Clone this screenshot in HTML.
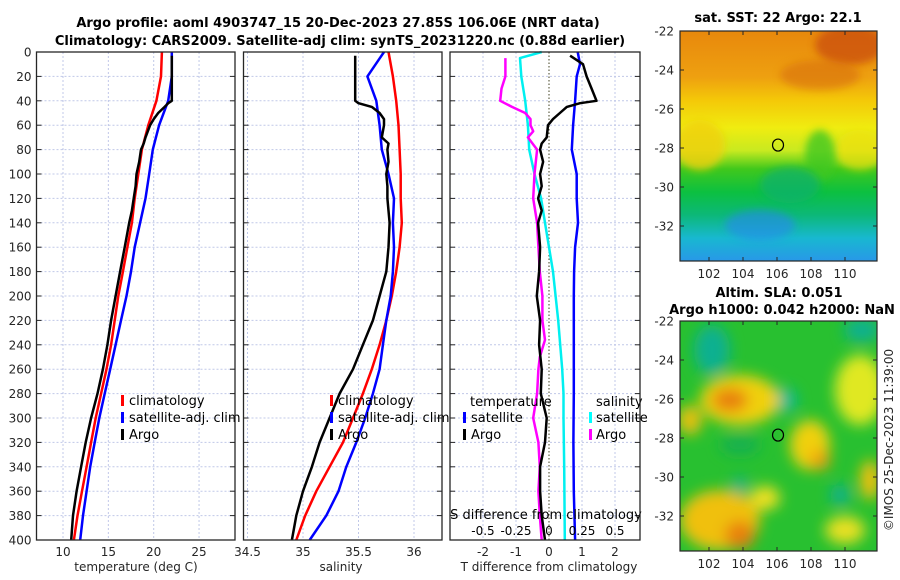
<!DOCTYPE html>
<html><head><meta charset="utf-8"><style>
html,body{margin:0;padding:0;background:#fff;}
svg{display:block;font-family:"DejaVu Sans","Liberation Sans",sans-serif;}
</style></head><body>
<svg id="fig" width="900" height="580" viewBox="0 0 900 580" xmlns="http://www.w3.org/2000/svg">
<defs>
<linearGradient id="sstg" x1="0" y1="0" x2="0" y2="1">
<stop offset="0" stop-color="#e8880c"/><stop offset="0.2" stop-color="#eea010"/><stop offset="0.3" stop-color="#f4c808"/><stop offset="0.42" stop-color="#f0ec10"/><stop offset="0.52" stop-color="#c8ea20"/><stop offset="0.6" stop-color="#40c81c"/><stop offset="0.7" stop-color="#0cc040"/><stop offset="0.8" stop-color="#0cb878"/><stop offset="0.9" stop-color="#18b8d0"/><stop offset="1" stop-color="#2898e8"/>
</linearGradient>
<filter id="bl" x="-50%" y="-50%" width="200%" height="200%"><feGaussianBlur stdDeviation="7"/></filter>
<filter id="bl2" x="-50%" y="-50%" width="200%" height="200%"><feGaussianBlur stdDeviation="4"/></filter>
<clipPath id="c1"><rect x="680" y="31" width="197" height="230"/></clipPath>
<clipPath id="c2"><rect x="680" y="321" width="197" height="230"/></clipPath>
</defs>
<g id="titles" fill="#000" font-weight="bold" font-size="13" text-anchor="middle">
<text x="338" y="27">Argo profile: aoml 4903747_15 20-Dec-2023 27.85S 106.06E (NRT data)</text>
<text x="340" y="45">Climatology: CARS2009. Satellite-adj clim: synTS_20231220.nc (0.88d earlier)</text>
<text x="778" y="22">sat. SST: 22 Argo: 22.1</text>
<text x="779" y="297">Altim. SLA: 0.051</text>
<text x="782" y="314">Argo h1000: 0.042 h2000: NaN</text>
</g>
<g id="p1"></g>
<g id="p2"></g>
<g id="p3"></g>
<g id="map1" clip-path="url(#c1)">
<rect x="680" y="31" width="197" height="230" fill="url(#sstg)"/>
<ellipse cx="850" cy="45" rx="35" ry="20" fill="#c84a08" opacity="0.7" filter="url(#bl2)"/>
<ellipse cx="820" cy="75" rx="40" ry="15" fill="#d87010" opacity="0.6" filter="url(#bl2)"/>
<ellipse cx="700" cy="145" rx="25" ry="25" fill="#f0d010" opacity="0.8" filter="url(#bl2)"/>
<ellipse cx="860" cy="150" rx="25" ry="20" fill="#f0e010" opacity="0.7" filter="url(#bl2)"/>
<ellipse cx="820" cy="155" rx="15" ry="25" fill="#40c820" opacity="0.8" filter="url(#bl2)"/>
<ellipse cx="760" cy="225" rx="35" ry="15" fill="#2888f0" opacity="0.6" filter="url(#bl2)"/>
<ellipse cx="790" cy="185" rx="30" ry="18" fill="#10b070" opacity="0.7" filter="url(#bl2)"/>
</g>
<g id="map2" clip-path="url(#c2)">
<rect x="680" y="321" width="197" height="230" fill="#28c030"/>
<g filter="url(#bl)">
<ellipse cx="712" cy="350" rx="18" ry="25" fill="#10b090"/>
<ellipse cx="785" cy="400" rx="12" ry="12" fill="#10b898"/>
<ellipse cx="862" cy="330" rx="18" ry="12" fill="#10b090"/>
<ellipse cx="740" cy="400" rx="40" ry="25" fill="#f0d010"/>
<ellipse cx="730" cy="400" rx="18" ry="12" fill="#e88010"/>
<ellipse cx="690" cy="420" rx="12" ry="15" fill="#e8c010"/>
<ellipse cx="860" cy="390" rx="25" ry="35" fill="#e0e820"/>
<ellipse cx="810" cy="445" rx="20" ry="25" fill="#f0d010"/>
<ellipse cx="820" cy="460" rx="10" ry="10" fill="#f0a010"/>
<ellipse cx="870" cy="480" rx="10" ry="20" fill="#f0c010"/>
<ellipse cx="720" cy="520" rx="40" ry="30" fill="#f0c010"/>
<ellipse cx="740" cy="535" rx="15" ry="14" fill="#e88010"/>
<ellipse cx="765" cy="498" rx="15" ry="12" fill="#f0e020"/>
<ellipse cx="845" cy="530" rx="20" ry="14" fill="#e8e020"/>
<ellipse cx="740" cy="445" rx="20" ry="10" fill="#18b050"/>
<ellipse cx="840" cy="495" rx="10" ry="10" fill="#10b090"/>
<ellipse cx="740" cy="485" rx="8" ry="8" fill="#10b090"/>
</g>
</g>
<g id="maxes"></g>
<text transform="translate(893,440) rotate(-90)" text-anchor="middle" font-size="12" fill="#262626">©IMOS 25-Dec-2023 11:39:00</text>
</svg>
<script>
// ---- data ----
const depthTicks = [0,20,40,60,80,100,120,140,160,180,200,220,240,260,280,300,320,340,360,380,400];
const tempTicks = [10,15,20,25];
const salTicks = [34.5,35,35.5,36];
const dTTicks = [-2,-1,0,1,2];
const dSTicks = [-0.5,-0.25,0,0.25,0.5];
const dSTickLabels = ["-0.5","-0.25","0","0.25","0.5"];
const lonTicks = [102,104,106,108,110];
const latTicks = [-22,-24,-26,-28,-30,-32];
const floatLon = 106.06;
const floatLat = -27.85;

const climDepth = [0,20,40,60,80,100,120,140,160,180,200,220,240,260,280,300,320,340,360,380,400];
const climTemp = [20.9,20.8,20.3,19.4,18.7,18.3,17.9,17.6,17.1,16.6,16.1,15.7,15.3,14.8,14.2,13.6,13.1,12.6,12.1,11.6,11.2];
const satTemp = [22.0,22.0,21.6,20.6,19.9,19.5,19.1,18.5,17.9,17.5,17.0,16.4,15.8,15.2,14.6,14.0,13.5,13.0,12.6,12.2,11.9];
const climSal = [35.77,35.81,35.84,35.86,35.87,35.88,35.88,35.89,35.87,35.84,35.80,35.75,35.69,35.62,35.54,35.45,35.36,35.24,35.12,35.02,34.94];
const satSal = [35.73,35.58,35.66,35.69,35.71,35.77,35.82,35.81,35.82,35.81,35.79,35.75,35.72,35.69,35.63,35.56,35.48,35.39,35.32,35.21,35.06];

const argoDepth = [3,10,20,30,40,42,45,50,55,60,70,75,80,90,100,110,120,130,140,160,180,200,220,240,260,280,300,320,340,360,380,400];
const argoTemp = [22.0,22.0,22.0,22.0,22.0,21.6,21.2,20.5,20.0,19.6,19.1,18.9,18.6,18.4,18.1,18.0,17.8,17.6,17.3,16.8,16.3,15.8,15.3,14.9,14.4,13.8,13.1,12.5,12.0,11.5,11.1,10.9];
const argoSal = [35.47,35.47,35.47,35.47,35.47,35.50,35.62,35.69,35.73,35.73,35.71,35.77,35.76,35.77,35.75,35.76,35.76,35.77,35.78,35.77,35.75,35.69,35.63,35.54,35.45,35.33,35.24,35.15,35.08,35.00,34.94,34.90];

const satDTDepth = [0,10,20,40,60,80,100,120,140,160,180,200,240,280,320,360,400];
const satDT = [0.87,0.94,0.84,0.79,0.73,0.69,0.84,0.84,0.88,0.79,0.76,0.75,0.75,0.75,0.74,0.75,0.79];
const argoDT = [0.64,1.03,1.14,1.29,1.44,0.94,0.54,0.33,0.12,-0.03,-0.07,-0.22,-0.27,-0.18,-0.27,-0.22,-0.33,-0.22,-0.33,-0.27,-0.30,-0.37,-0.27,-0.30,-0.22,-0.25,-0.07,-0.12,-0.27,-0.27,-0.22,-0.12];
const satDSDepth = [0,5,20,40,60,80,100,120,140,180,220,260,280,300,340,400];
const satDS = [-0.055,-0.22,-0.21,-0.18,-0.16,-0.15,-0.11,-0.06,-0.03,0.03,0.07,0.10,0.11,0.11,0.115,0.12];
const argoDSDepth = [5,20,30,40,45,50,55,60,65,70,80,100,120,140,160,180,200,220,236,250,260,280,300,320,340,360,380,400];
const argoDS = [-0.33,-0.33,-0.36,-0.37,-0.28,-0.18,-0.14,-0.14,-0.12,-0.16,-0.09,-0.11,-0.12,-0.09,-0.08,-0.07,-0.05,-0.05,-0.03,-0.07,-0.08,-0.09,-0.12,-0.08,-0.07,-0.08,-0.07,-0.055];

// ---- geometry ----
const NS='http://www.w3.org/2000/svg';
const Y0=52, Y1=540;
const yD = d => Y0 + d*(Y1-Y0)/400;
const xT = t => 63 + (t-10)*9.07;
const xS = s => 247.5 + (s-34.5)*111;
const xDT = v => 549 + v*33;
const xDS = v => 549 + v*132;
const xLon = l => 709 + (l-102)*17;
const yLat1 = l => 31 + (-22-l)*19.5;
const yLat2 = l => 321 + (-22-l)*19.5;

function mk(tag, attrs, parent){const e=document.createElementNS(NS,tag);for(const k in attrs)e.setAttribute(k,attrs[k]);parent.appendChild(e);return e;}
function txt(parent,x,y,s,anchor,size,fill){const e=mk('text',{x:x,y:y,'text-anchor':anchor||'middle','font-size':size||12,fill:fill||'#262626'},parent);e.textContent=s;return e;}
function line(xs, ys, color, parent, name){
  const pts = xs.map((x,i)=>x.toFixed(1)+','+ys[i].toFixed(1)).join(' ');
  const p = mk('polyline',{points:pts,fill:'none',stroke:color,'stroke-width':2.5,'stroke-linejoin':'round'},parent);
  
  
  return p;
}
function panel(g, x0, x1, vticks, xf, leftLabels){
  mk('rect',{x:x0,y:Y0,width:x1-x0,height:Y1-Y0,fill:'#fff'},g);
  vticks.forEach(v=>{const x=xf(v);mk('line',{x1:x,x2:x,y1:Y0,y2:Y1,stroke:'#c0c8e8','stroke-width':1,'stroke-dasharray':'2,2'},g);});
  depthTicks.forEach(d=>{const y=yD(d);
    mk('line',{x1:x0,x2:x1,y1:y,y2:y,stroke:'#c0c8e8','stroke-width':1,'stroke-dasharray':'2,2'},g);
    mk('line',{x1:x0,x2:x0+5,y1:y,y2:y,stroke:'#262626'},g);
    mk('line',{x1:x1-5,x2:x1,y1:y,y2:y,stroke:'#262626'},g);
    if(leftLabels){const t=txt(g,x0-5,y+4.5,String(d),'end',12);}
  });
}
function frame(g,x0,x1){mk('rect',{x:x0,y:Y0,width:x1-x0,height:Y1-Y0,fill:'none',stroke:'#262626','stroke-width':1.3},g);}
function legendMark(g,x,y,color){mk('rect',{x:x,y:y-10,width:3,height:11,fill:color},g);}

// Panel 1
const p1=document.getElementById('p1');
panel(p1,36.5,235,tempTicks,xT,true);
line(climTemp.map(xT),climDepth.map(yD),'#ff0000',p1,'climatology-temp-line');
line(satTemp.map(xT),climDepth.map(yD),'#0000ff',p1,'satellite-temp-line');
line(argoTemp.map(xT),argoDepth.map(yD),'#000000',p1,'argo-temp-line');
[['climatology','#f00',405],['satellite-adj. clim','#00f',422],['Argo','#000',439]].forEach(([s,c,y])=>{legendMark(p1,121,y,c);const t=txt(p1,129,y,s,'start',13,'#000');});
tempTicks.forEach(v=>{const t=txt(p1,xT(v),556,String(v),'middle',12);});
txt(p1,136,571,'temperature (deg C)','middle',12);

// Panel 2
const p2=document.getElementById('p2');
panel(p2,243.5,442,salTicks,xS,false);
line(climSal.map(xS),climDepth.map(yD),'#ff0000',p2,'climatology-sal-line');
line(satSal.map(xS),climDepth.map(yD),'#0000ff',p2,'satellite-sal-line');
line(argoSal.map(xS),argoDepth.map(yD),'#000000',p2,'argo-sal-line');
[['climatology','#f00',405],['satellite-adj. clim','#00f',422],['Argo','#000',439]].forEach(([s,c,y])=>{legendMark(p2,330,y,c);const t=txt(p2,338,y,s,'start',13,'#000');});
salTicks.forEach(v=>{const t=txt(p2,xS(v),556,String(v),'middle',12);});
txt(p2,341,571,'salinity','middle',12);
frame(p1,36.5,235);

// Panel 3
const p3=document.getElementById('p3');
panel(p3,450,640,dTTicks.filter(v=>v!==0),xDT,false);
mk('line',{x1:549,x2:549,y1:Y0,y2:Y1,stroke:'#404020','stroke-width':1,'stroke-dasharray':'1.5,2'},p3);
line(satDS.map(xDS),satDSDepth.map(yD),'#00f0f0',p3,'satellite-sal-diff-line');
line(satDT.map(xDT),satDTDepth.map(yD),'#0000ff',p3,'satellite-temp-diff-line');
line(argoDS.map(xDS),argoDSDepth.map(yD),'#ff00ff',p3,'argo-sal-diff-line');
line(argoDT.map(xDT),argoDepth.map(yD),'#000000',p3,'argo-temp-diff-line');
txt(p3,470,406,'temperature','start',13,'#000');
legendMark(p3,463,422,'#00f');txt(p3,471,422,'satellite','start',13,'#000');
legendMark(p3,463,439,'#000');txt(p3,471,439,'Argo','start',13,'#000');
txt(p3,596,406,'salinity','start',13,'#000');
legendMark(p3,589,422,'#0ff');txt(p3,596,422,'satellite','start',13,'#000');
legendMark(p3,589,439,'#f0f');txt(p3,596,439,'Argo','start',13,'#000');
txt(p3,546,519,'S difference from climatology','middle',13,'#000');
dSTicks.forEach((v,i)=>{const t=txt(p3,xDS(v),535,dSTickLabels[i],'middle',12,'#000');});
dTTicks.forEach(v=>{const t=txt(p3,xDT(v),556,String(v),'middle',12);});
txt(p3,549,571,'T difference from climatology','middle',12);
frame(p2,243.5,442);
frame(p3,450,640);

// Map axes
const ma=document.getElementById('maxes');
[[31,yLat1,278,'sst'],[321,yLat2,568,'sla']].forEach(([top,yl,labY,nm])=>{
  mk('rect',{x:680,y:top,width:197,height:230,fill:'none',stroke:'#262626','stroke-width':1.2},ma);
  latTicks.forEach(l=>{const y=yl(l);
    mk('line',{x1:680,x2:684,y1:y,y2:y,stroke:'#262626'},ma);mk('line',{x1:873,x2:877,y1:y,y2:y,stroke:'#262626'},ma);
    const t=txt(ma,674,y+4.5,String(l),'end',12);});
  lonTicks.forEach(l=>{const x=xLon(l);
    mk('line',{x1:x,x2:x,y1:top+226,y2:top+230,stroke:'#262626'},ma);mk('line',{x1:x,x2:x,y1:top,y2:top+4,stroke:'#262626'},ma);
    const t=txt(ma,x,labY,String(l),'middle',12);});
  const c=mk('ellipse',{cx:xLon(floatLon),cy:yl(floatLat),rx:5.5,ry:6,fill:'none',stroke:'#000','stroke-width':1.2},ma);
  
  
});
</script>
</body></html>
